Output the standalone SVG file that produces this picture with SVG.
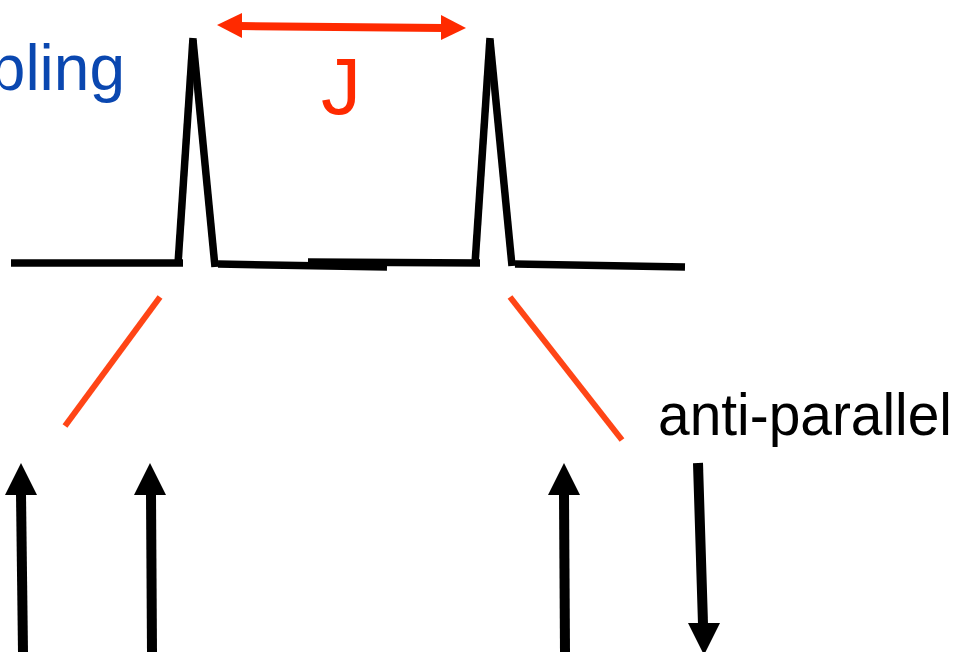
<svg xmlns="http://www.w3.org/2000/svg" width="965" height="652" viewBox="0 0 965 652">
<style>
.spec{stroke:#000;stroke-width:7.5;fill:none;stroke-linecap:butt}
.red{stroke:#ff4516;stroke-width:6;fill:none}
.shaft{stroke:#000;stroke-width:10;fill:none}
.head{fill:#000}
.lbl{font-family:"Liberation Sans",Arial,sans-serif}
</style>
<rect width="965" height="652" fill="#fff"/>
<g id="spectrum">
<line class="spec" x1="11" y1="263" x2="183" y2="263"/>
<line class="spec" x1="178" y1="264" x2="193" y2="38"/>
<line class="spec" x1="193" y1="40" x2="215" y2="267"/>
<line class="spec" x1="218" y1="264" x2="387" y2="267"/>
<line class="spec" x1="308" y1="262" x2="480" y2="263"/>
<line class="spec" x1="475" y1="264" x2="490" y2="38"/>
<line class="spec" x1="490" y1="40" x2="512" y2="266"/>
<line class="spec" x1="515" y1="264" x2="685" y2="267"/>
</g>
<g id="coupling-label">
<text class="lbl" x="125" y="90" font-size="64" fill="#0a47b0" text-anchor="end">pling</text>
</g>
<g id="J-arrow">
<line x1="240" y1="26" x2="443" y2="28" stroke="#ff2a00" stroke-width="8"/>
<polygon points="217,25 242,13 242,38" fill="#ff2a00"/>
<polygon points="466,28 441,15 441,40" fill="#ff2a00"/>
<text class="lbl" x="321" y="114" font-size="80" fill="#ff2a00">J</text>
</g>
<g id="anti-parallel-label">
<text class="lbl" x="658" y="435" font-size="60" fill="#000" textLength="294" lengthAdjust="spacingAndGlyphs">anti-parallel</text>
</g>
<g id="connectors">
<line class="red" x1="160" y1="297" x2="65" y2="426"/>
<line class="red" x1="510" y1="297" x2="622" y2="440"/>
</g>
<g id="spin-up-1">
<line class="shaft" x1="21" y1="494" x2="23" y2="652"/>
<polygon class="head" points="21,463 5,495 37,495"/>
</g>
<g id="spin-up-2">
<line class="shaft" x1="151" y1="494" x2="152" y2="652"/>
<polygon class="head" points="150,463 134,495 166,495"/>
</g>
<g id="spin-up-3">
<line class="shaft" x1="564" y1="494" x2="565" y2="652"/>
<polygon class="head" points="564,463 548,495 580,495"/>
</g>
<g id="spin-down">
<line class="shaft" x1="698" y1="463" x2="703" y2="624"/>
<polygon class="head" points="704,655 688,623 720,623"/>
</g>
</svg>
